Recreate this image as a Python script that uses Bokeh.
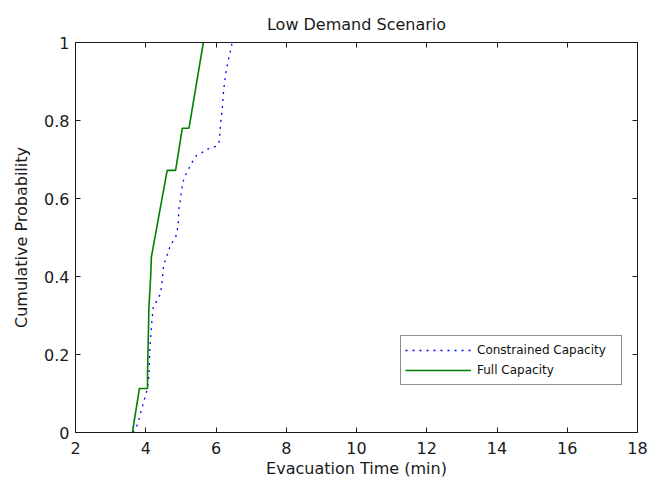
from bokeh.plotting import figure
from bokeh.models import LinearAxis, FixedTicker, Range1d, Legend, LegendItem, CustomLabelingPolicy
from bokeh.embed import file_html
from bokeh.resources import INLINE

# ---- data ----
full_time = [3.62, 3.82, 4.05, 4.05, 4.09, 4.14, 4.16, 4.61, 4.85, 5.04, 5.23, 5.64]
full_prob = [0.0, 0.113, 0.113, 0.15, 0.32, 0.40, 0.45, 0.672, 0.672, 0.78, 0.78, 1.0]

constrained_time = [3.64, 3.76, 3.90, 4.04, 4.09, 4.12, 4.16, 4.21, 4.33, 4.42, 4.47,
                    4.51, 4.63, 4.70, 4.85, 4.92, 4.94, 4.99, 5.05, 5.11, 5.21, 5.30,
                    5.44, 5.56, 5.73, 5.94, 6.08, 6.10, 6.13, 6.18, 6.22, 6.27, 6.30,
                    6.34, 6.39, 6.46]
constrained_prob = [0.0, 0.02, 0.065, 0.11, 0.145, 0.22, 0.27, 0.32, 0.34, 0.356, 0.39,
                    0.43, 0.46, 0.48, 0.50, 0.53, 0.57, 0.60, 0.64, 0.656, 0.674, 0.69,
                    0.71, 0.715, 0.726, 0.731, 0.74, 0.756, 0.79, 0.83, 0.88, 0.915, 0.933,
                    0.95, 0.97, 1.0]

x_ticks = [2, 4, 6, 8, 10, 12, 14, 16, 18]
y_ticks = [0, 0.2, 0.4, 0.6, 0.8, 1]
y_tick_labels = ["0", "0.2", "0.4", "0.6", "0.8", "1"]

title_text = "Low Demand Scenario"
x_label = "Evacuation Time (min)"
y_label = "Cumulative Probability"
series_names = ["Constrained Capacity", "Full Capacity"]

FONT = "DejaVu Sans"
INK = "#1a1a1a"

p = figure(width=654, height=480, output_backend="svg", toolbar_location=None,
           x_range=Range1d(2, 18), y_range=Range1d(0, 1),
           min_border_left=75, min_border_right=17, min_border_top=42, min_border_bottom=48)

p.title.text = title_text
p.title.align = "center"
p.title.text_font = FONT
p.title.text_font_size = "16px"
p.title.text_font_style = "normal"
p.title.text_color = INK

p.xgrid.visible = False
p.ygrid.visible = False
p.outline_line_color = INK
p.background_fill_color = "white"
p.border_fill_color = "white"

def style_axis(ax, label_size="16px"):
    ax.axis_line_color = INK
    ax.major_tick_line_color = INK
    ax.major_tick_in = 5
    ax.major_tick_out = 0
    ax.minor_tick_line_color = None
    ax.major_label_text_font = FONT
    ax.major_label_text_font_size = label_size
    ax.major_label_text_color = INK
    ax.axis_label_text_font = FONT
    ax.axis_label_text_font_size = "16px"
    ax.axis_label_text_font_style = "normal"
    ax.axis_label_text_color = INK

xa = p.xaxis[0]
ya = p.yaxis[0]
xa.ticker = FixedTicker(ticks=x_ticks)
ya.ticker = FixedTicker(ticks=y_ticks)
ya.major_label_overrides = {t: l for t, l in zip(y_ticks, y_tick_labels)}
xa.axis_label = x_label
ya.axis_label = y_label
style_axis(xa)
style_axis(ya)
xa.major_label_standoff = 9
ya.major_label_standoff = 6
xa.axis_label_standoff = 2
ya.axis_label_standoff = 10

hide_labels = """
for (const i of indices) { indices.unset(i) }
return indices
"""
top_ax = LinearAxis(ticker=FixedTicker(ticks=x_ticks),
                    major_label_policy=CustomLabelingPolicy(code=hide_labels))
style_axis(top_ax, label_size="1px")
top_ax.major_label_standoff = 0
p.add_layout(top_ax, "above")
right_ax = LinearAxis(ticker=FixedTicker(ticks=y_ticks),
                      major_label_policy=CustomLabelingPolicy(code=hide_labels))
style_axis(right_ax, label_size="1px")
right_ax.major_label_standoff = 0
p.add_layout(right_ax, "right")

r_con = p.line(constrained_time, constrained_prob, line_color="#0000FF", line_width=1.3,
               line_dash="2 5")
r_full = p.line(full_time, full_prob, line_color="#008000", line_width=1.6)

legend = Legend(items=[LegendItem(label=series_names[0], renderers=[r_con]),
                       LegendItem(label=series_names[1], renderers=[r_full])],
                location=(325, 47))
legend.label_text_font = FONT
legend.label_text_font_size = "12px"
legend.label_text_color = "#111111"
legend.border_line_color = INK
legend.border_line_width = 1
legend.background_fill_color = "white"
legend.background_fill_alpha = 1
legend.padding = 4
legend.margin = 0
legend.spacing = 0
legend.glyph_width = 66
legend.glyph_height = 20
legend.label_height = 20
legend.label_standoff = 6
legend.label_width = 140
p.add_layout(legend, "center")

open("out.html", "w").write(file_html(p, INLINE))
